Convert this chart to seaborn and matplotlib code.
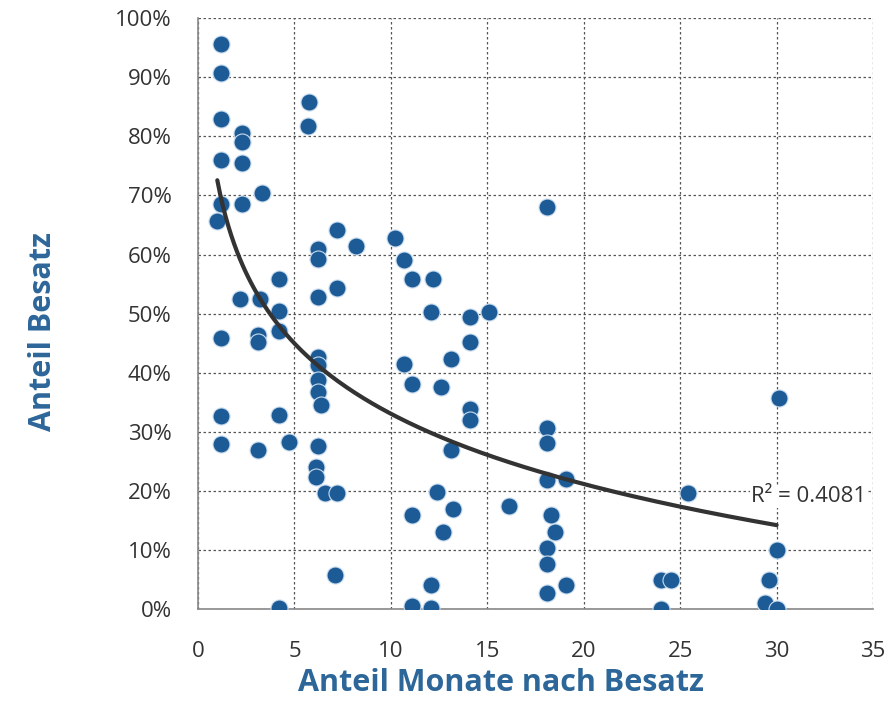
import numpy as np
import pandas as pd
import seaborn as sns
import matplotlib.pyplot as plt
from matplotlib.ticker import PercentFormatter, MultipleLocator

# Values
months = [1.2, 1.2, 1.2, 1.2, 1.2, 1.0, 1.2, 1.2, 1.2,
          2.3, 2.3, 2.3, 2.3, 2.2, 3.3, 3.2, 3.1, 3.1, 3.1,
          4.2, 4.2, 4.2, 4.2, 4.2, 4.7, 5.75, 5.7,
          6.2, 6.2, 6.2, 6.2, 6.2, 6.2, 6.2, 6.4, 6.2, 6.1, 6.1,
          6.6, 7.2, 7.1, 7.2, 7.2, 8.2,
          10.2, 10.7, 11.1, 12.2, 12.1, 10.7, 11.1, 12.6, 13.1,
          14.1, 15.1, 14.1, 14.1, 14.1, 13.1, 12.4, 11.1, 13.2, 12.7,
          12.1, 11.1, 12.1, 16.1,
          18.1, 18.1, 18.1, 18.1, 19.1, 18.3, 18.5, 18.1, 18.1, 18.1, 19.1,
          25.4, 30.1, 30.0, 29.6, 29.4, 30.0, 24.0, 24.5, 24.0]
besatz = [95.6, 90.8, 82.9, 76.0, 68.5, 65.7, 45.9, 32.6, 27.9,
          80.5, 79.0, 75.5, 68.5, 52.5, 70.4, 52.5, 46.4, 45.2, 26.9,
          55.8, 50.5, 47.0, 32.8, 0.2, 28.3, 85.8, 81.7,
          60.9, 59.2, 52.8, 42.6, 41.3, 38.7, 36.7, 34.5, 27.6, 24.0, 22.3,
          19.6, 19.6, 5.8, 64.1, 54.3, 61.4,
          62.8, 59.0, 55.8, 55.8, 50.3, 41.5, 38.1, 37.6, 42.3,
          49.4, 50.3, 45.2, 33.8, 32.0, 26.9, 19.8, 15.9, 16.9, 13.0,
          4.1, 0.5, 0.2, 17.4,
          68.0, 30.6, 28.1, 21.8, 22.0, 15.9, 13.0, 10.3, 7.6, 2.7, 4.1,
          19.6, 35.7, 10.0, 4.9, 1.0, 0.0, 4.9, 4.9, 0.0]

x_ticks = [0, 5, 10, 15, 20, 25, 30, 35]
r2_label = "R² = 0.4081"

df = pd.DataFrame({"monate": months, "besatz": besatz})

# logarithmic trend line
coef = np.polyfit(np.log(df["monate"]), df["besatz"], 1)
trend = pd.DataFrame({"monate": np.linspace(1.0, 30.0, 200)})
trend["besatz"] = coef[0] * np.log(trend["monate"]) + coef[1]

sns.set_style("white")
plt.rcParams['font.family'] = ['Open Sans', 'DejaVu Sans']

fig = plt.figure(figsize=(8.9, 7.27), dpi=100)
ax = fig.add_axes([0.2225, 0.1623, 0.7585, 0.8127])

sns.scatterplot(data=df, x="monate", y="besatz", ax=ax, s=150,
                color="#1d5b97", edgecolor="#c9dcee", linewidth=0.8, zorder=3)
sns.lineplot(data=trend, x="monate", y="besatz", ax=ax, color="#333333",
             linewidth=3, zorder=4)

ax.set_xlim(0, 35)
ax.set_ylim(0, 100)
ax.set_xticks(x_ticks)
ax.yaxis.set_major_locator(MultipleLocator(10))
ax.yaxis.set_major_formatter(PercentFormatter(100, decimals=0))

ax.grid(True, linestyle=(0, (2, 2)), color="#555555", linewidth=0.9)
ax.set_axisbelow(True)
for side in ["top", "right"]:
    ax.spines[side].set_visible(False)
for side in ["left", "bottom"]:
    ax.spines[side].set_color("#888888")
    ax.spines[side].set_linewidth(1.2)
ax.tick_params(axis="both", labelsize=16, labelcolor="#333333",
               color="#888888", direction="out", width=1.2)
ax.tick_params(axis="y", length=7, pad=12)
ax.tick_params(axis="x", length=11, pad=12)

ax.set_xlabel("")
ax.set_ylabel("")
fig.text(501 / 890, 1 - 683 / 727, "Anteil Monate nach Besatz", fontsize=22,
         fontweight="bold", color="#2d6699", ha="center", va="center")
fig.text(43 / 890, 1 - 332 / 727, "Anteil Besatz", fontsize=22,
         fontweight="bold", color="#2d6699", ha="center", va="center",
         rotation=90)

ax.text(28.67, 18.1, r2_label, fontsize=16, color="#333333", va="baseline",
        ha="left", zorder=5,
        bbox=dict(facecolor="white", edgecolor="none", pad=0.5))

fig.savefig("out.png", dpi=100)
